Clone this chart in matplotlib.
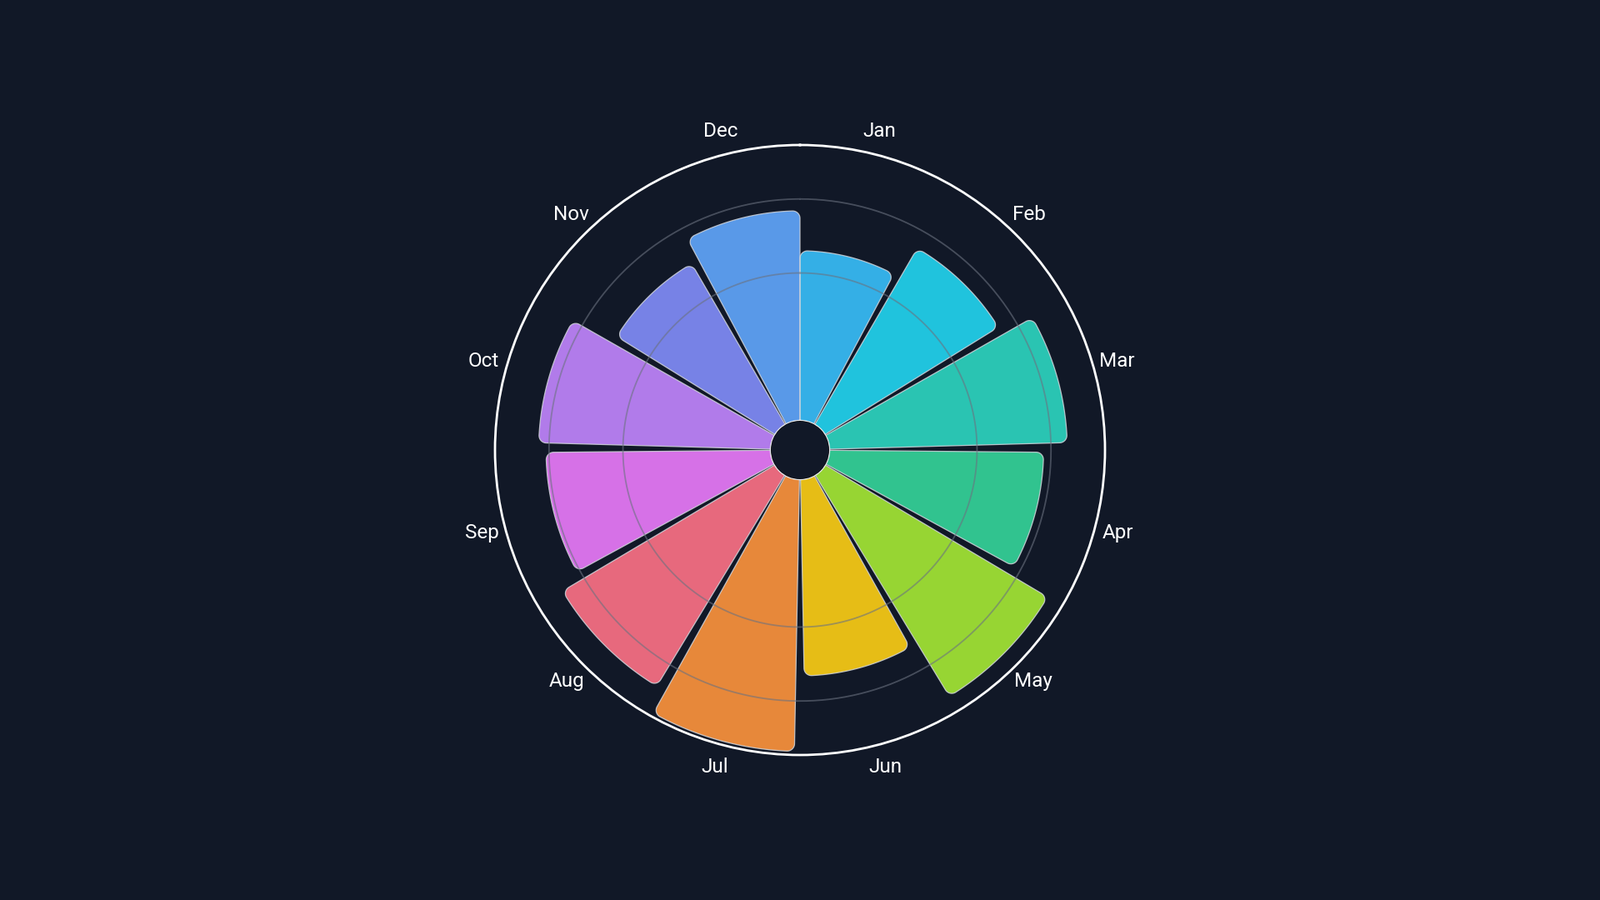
import numpy as np
import matplotlib
matplotlib.use("Agg")
import matplotlib.pyplot as plt
from matplotlib.patches import Polygon

# ---------------- data ----------------
months = ["Jan", "Feb", "Mar", "Apr", "May", "Jun",
          "Jul", "Aug", "Sep", "Oct", "Nov", "Dec"]
values = [115, 138, 161, 145, 175, 133, 184, 167, 152, 157, 126, 142]
colors = ["#38bdf8", "#22d3ee", "#2dd4bf", "#34d399", "#a3e635", "#facc15",
          "#fb923c", "#fb7185", "#e879f9", "#c084fc", "#818cf8", "#60a5fa"]
grid_values = [100, 150]
r_max = 186.5

# ---------------- style ----------------
BG = "#111827"
HOLE = 19.7          # inner hole in data units
PAD_INNER = 0.07     # band padding between bars
CORNER = 5.0         # corner radius in data units
LABEL_R = 202.5

plt.rcParams["font.family"] = ["Roboto", "DejaVu Sans"]

fig = plt.figure(figsize=(19.2, 10.8), dpi=100, facecolor=BG)
ax = fig.add_axes([0.309375, 0.1611, 0.38125, 0.6778], projection="polar")
ax.set_facecolor(BG)
ax.set_theta_zero_location("N")
ax.set_theta_direction(-1)
ax.set_ylim(0, r_max)
ax.set_rorigin(-HOLE)

n = len(months)
step = 2 * np.pi / (n - PAD_INNER)
band = step * (1 - PAD_INNER)


def rounded_wedge(t0, t1, r_in, r_out, c):
    """Return (theta, r) arrays for a wedge with rounded outer corners.
    Geometry computed in a radial frame R = r + HOLE (isotropic)."""
    Ri, Ro = r_in + HOLE, r_out + HOLE
    pts = []
    for t in np.linspace(t1, t0, 30):
        pts.append((Ri * np.cos(t), Ri * np.sin(t)))
    d = Ro - c
    da = np.arcsin(c / d)
    cc = t0 + da
    cx, cy = d * np.cos(cc), d * np.sin(cc)
    L = np.sqrt(d ** 2 - c ** 2)
    p1 = (L * np.cos(t0), L * np.sin(t0))
    a_start = np.arctan2(p1[1] - cy, p1[0] - cx)
    a_end = cc
    if a_end < a_start:
        a_end += 2 * np.pi
    if a_end - a_start > np.pi:
        a_end -= 2 * np.pi
    for a in np.linspace(a_start, a_end, 15):
        pts.append((cx + c * np.cos(a), cy + c * np.sin(a)))
    cc2 = t1 - da
    for t in np.linspace(cc, cc2, 60):
        pts.append((Ro * np.cos(t), Ro * np.sin(t)))
    cx2, cy2 = d * np.cos(cc2), d * np.sin(cc2)
    p2 = (L * np.cos(t1), L * np.sin(t1))
    b_start = cc2
    b_end = np.arctan2(p2[1] - cy2, p2[0] - cx2)
    if b_end < b_start:
        b_end += 2 * np.pi
    if b_end - b_start > np.pi:
        b_end -= 2 * np.pi
    for a in np.linspace(b_start, b_end, 15):
        pts.append((cx2 + c * np.cos(a), cy2 + c * np.sin(a)))
    pts = np.array(pts)
    th = np.unwrap(np.arctan2(pts[:, 1], pts[:, 0]))
    th = th - 2 * np.pi * np.round((th[0] - t1) / (2 * np.pi))
    rr = np.hypot(pts[:, 0], pts[:, 1]) - HOLE
    return th, rr


for i, (m, v, col) in enumerate(zip(months, values, colors)):
    t0 = i * step
    t1 = t0 + band
    th, rr = rounded_wedge(t0, t1, 0.0, v, CORNER)
    poly = Polygon(np.column_stack([th, rr]), closed=True,
                   facecolor=col, alpha=0.92, edgecolor="none", zorder=2)
    ax.add_patch(poly)
    edge = Polygon(np.column_stack([th, rr]), closed=True,
                   facecolor="none", edgecolor="#d1d5db", alpha=0.85,
                   linewidth=0.9, zorder=2.2)
    ax.add_patch(edge)
    ax.text(t0 + band / 2, LABEL_R, m, ha="center", va="center",
            color="white", fontsize=17.5, zorder=5)

tt = np.linspace(0, 2 * np.pi, 400)
for g in grid_values:
    ax.plot(tt, np.full_like(tt, g), color="#6b7280", alpha=0.6,
            linewidth=1.3, zorder=3)

ax.plot(tt, np.zeros_like(tt), color="#e5e7eb", linewidth=1.8, zorder=4)

ax.grid(False)
ax.set_xticks([])
ax.set_yticks([])
ax.spines["polar"].set_color("white")
ax.spines["polar"].set_linewidth(2.0)
ax.spines["polar"].set_zorder(4)

fig.savefig("out.png", dpi=100, facecolor=BG)
